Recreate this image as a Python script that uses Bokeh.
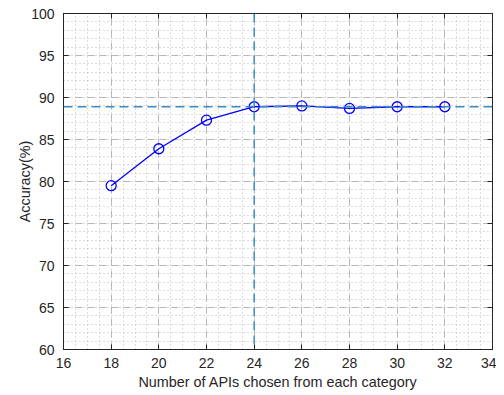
from bokeh.plotting import figure
from bokeh.models import LinearAxis, SingleIntervalTicker, Span, Range1d, CustomJSTickFormatter
from bokeh.embed import file_html
from bokeh.resources import INLINE

num_apis = [18, 20, 22, 24, 26, 28, 30, 32]
accuracy = [79.5, 83.9, 87.3, 88.9, 89.0, 88.7, 88.9, 88.9]
best_x = 24
best_y = 88.9

FONT = "Liberation Sans"
TXT = "#262626"

p = figure(width=496, height=392, output_backend="svg", toolbar_location=None,
           x_range=Range1d(16, 34), y_range=Range1d(60, 100),
           min_border_left=63, min_border_right=0, min_border_top=13, min_border_bottom=0)
p.background_fill_color = "white"
p.border_fill_color = "white"
p.outline_line_color = TXT
p.outline_line_width = 1

xt = SingleIntervalTicker(interval=2, num_minor_ticks=4)
yt = SingleIntervalTicker(interval=5, num_minor_ticks=5)
bottom = p.below[0]
left = p.left[0]
bottom.ticker = xt
left.ticker = yt
p.xgrid.ticker = xt
p.ygrid.ticker = yt
bottom.axis_label = "Number of APIs chosen from each category"
left.axis_label = "Accuracy(%)"

for g in (p.xgrid, p.ygrid):
    g.grid_line_color = "#a0a0a0"
    g.grid_line_alpha = 0.7
    g.grid_line_dash = "7 5"
    g.grid_line_width = 1
    g.minor_grid_line_color = "#a8a8a8"
    g.minor_grid_line_alpha = 0.8
    g.minor_grid_line_dash = "1 3"
    g.minor_grid_line_width = 1

blank = CustomJSTickFormatter(code="return '';")
top = LinearAxis(ticker=xt, formatter=blank, major_label_standoff=0)
right = LinearAxis(ticker=yt, formatter=blank, major_label_standoff=0)
p.add_layout(top, "above")
p.add_layout(right, "right")

for ax in (bottom, left, top, right):
    ax.major_tick_in = 5
    ax.major_tick_out = 0
    ax.minor_tick_line_color = None
    ax.axis_line_color = TXT
    ax.major_tick_line_color = TXT
    ax.major_label_text_color = TXT
    ax.major_label_text_font = FONT
    ax.axis_label_text_font = FONT
    ax.axis_label_text_color = TXT
    ax.axis_label_text_font_style = "normal"

for ax in (bottom, left):
    ax.major_label_text_font_size = "14px"
    ax.axis_label_text_font_size = "14.4px"
bottom.major_label_standoff = 4
left.major_label_standoff = 5
bottom.axis_label_standoff = 3
left.axis_label_standoff = -5

vline = Span(location=best_x, dimension="height", line_color="#3a8cc4",
             line_dash="9 5", line_width=1.5)
hline = Span(location=best_y, dimension="width", line_color="#3a8cc4",
             line_dash="9 5", line_width=1.5)
p.add_layout(vline)
p.add_layout(hline)

p.line(num_apis, accuracy, line_color="#0000ff", line_width=1.3)
p.scatter(num_apis, accuracy, marker="circle", size=10, fill_color=None,
          line_color="#0000ff", line_width=1.3)

open("out.html", "w").write(file_html(p, INLINE))
